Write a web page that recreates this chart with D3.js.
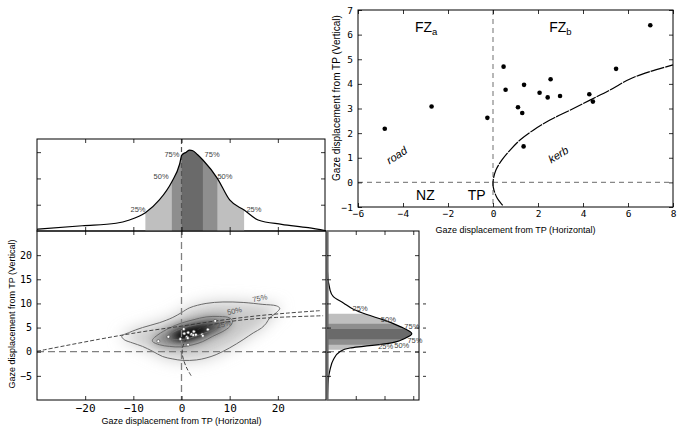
<!DOCTYPE html>
<html><head><meta charset="utf-8">
<script src="https://cdn.jsdelivr.net/npm/d3@7"></script>
<style>body{margin:0;background:#fff}svg{display:block}</style>
</head><body>
<svg id="c" width="683" height="432"></svg>
<script>
// ---------------- DATA ----------------
// gaze points (same points in both panels)
const ptsX = [-4.81,-2.73,-0.25,0.47,0.56,1.11,1.30,1.38,1.36,2.07,2.43,2.56,2.98,4.28,4.44,5.47,6.99];
const ptsY = [2.18,3.08,2.62,4.70,3.76,3.05,2.82,3.96,1.46,3.64,3.45,4.19,3.51,3.58,3.28,4.61,6.38];
// kerb boundary (top-right panel)
const kerbTR = [[0.43,-0.93],[0.16,-0.59],[0.01,-0.18],[0.01,0.09],[0.13,0.5],[0.39,0.9],[0.76,1.31],[1.2,1.72],[1.79,2.12],[2.53,2.53],[3.42,2.93],[4.31,3.34],[5.2,3.75],[6.09,4.2],[6.98,4.5],[8.0,4.77]];
// tick values
const trXTicks = [-6,-4,-2,0,2,4,6,8];
const trYTicks = [-1,0,1,2,3,4,5,6,7];
const mainXTicks = [-20,-10,0,10,20];
const mainYTicks = [-5,0,5,10,15,20];
const densTicks = [0.02,0.04,0.06];
// density contours (main panel)
const c75 = [[-12.4,3.2],[-10.8,4.0],[-8.1,5.0],[-4.6,6.0],[-1.8,7.1],[0,8.1],[1.7,9.1],[5.1,10.0],[8.6,10.3],[12.8,10.2],[16.9,9.8],[19.7,9.5],[20.4,9.0],[19.7,8.1],[18.3,7.0],[17.6,5.9],[16.6,4.9],[14.9,3.9],[12.8,2.5],[10.0,0.8],[7.2,-0.6],[5.1,-1.3],[3.1,-1.7],[0.3,-1.8],[-1.8,-1.5],[-3.9,-1.0],[-6.0,0.1],[-8.1,1.1],[-10.1,1.8],[-11.9,2.5]];
const c50 = [[-6.0,2.5],[-4.9,3.5],[-2.5,4.9],[-0.1,5.9],[2.4,6.6],[5.1,7.2],[7.9,7.3],[10.0,7.0],[10.6,6.3],[10.0,5.2],[8.6,4.2],[6.5,3.2],[4.4,2.1],[2.4,1.45],[-0.1,1.0],[-2.5,1.1],[-4.6,1.45],[-6.0,2.1]];
const c25 = [[-2.85,3.2],[-1.8,4.0],[0.3,4.9],[3.1,5.6],[5.8,6.05],[7.4,5.9],[8.0,5.4],[7.4,4.8],[5.8,4.2],[3.75,3.5],[1.7,2.8],[-0.4,2.5],[-2.1,2.6]];
const core = [[-1.5,3.1],[-0.5,3.9],[1.0,4.5],[3.0,4.9],[4.8,5.0],[5.5,4.6],[4.6,3.8],[2.8,3.1],[1.0,2.6],[-0.6,2.6]];
const contourNames = ['75%','50%','25%'];
const contourLabelPos = [[16.25,11.1],[11.0,8.45],[8.8,5.7]];
// boundaries (main panel)
const roadMain = [[-30,0.1],[-17,2.6],[-8,4.15],[0,5.3],[7,6.35],[15,7.35],[22,8.0],[28.7,8.5]];
const kerbMain = [[2.0,-4.97],[1.1,-3.4],[0.42,-1.66],[0.14,-0.28],[0.28,1.1],[0.97,2.5],[2.36,3.87],[4.4,5.1],[7.9,5.9],[12.8,6.6],[19.7,7.1],[29.4,7.45]];
// horizontal marginal density
const margXx = [-30,-20.6,-13.6,-10.8,-7.5,-4.6,-2.0,-0.4,0.06,1.0,1.67,2.35,3.3,4.44,7.44,10.0,13.0,15.9,20.8,26.3,30];
const margXd = [0.0013,0.0040,0.0059,0.0084,0.0139,0.0236,0.0375,0.0508,0.0578,0.0600,0.0616,0.0611,0.0582,0.054,0.0401,0.0236,0.016,0.0084,0.0051,0.0025,0.0002];
const bandXLo = [-7.5,-2.0,0.06];
const bandXHi = [13.0,7.44,4.44];
const topLabels = ['25%','50%','75%','25%','50%','75%'];
const topLabelX = [-9.02,-4.23,-1.98,15.04,9.02,6.35];
const topLabelD = [0.0164,0.0416,0.0582,0.0164,0.0416,0.0582];
// vertical marginal density
const margYy = [25,17,12.8,11.4,10.1,8.8,7.7,6.6,5.2,3.7,2.8,1.66,1.1,0.77,0.06,-1.66,-3.7,-5.8,-10];
const margYd = [0.0001,0.0002,0.0021,0.0044,0.0114,0.0183,0.0277,0.0392,0.0509,0.059,0.0544,0.0416,0.0253,0.016,0.0091,0.0044,0.0021,0.0009,0.0002];
const bandYLo = [0.41,1.45,2.6];
const bandYHi = [7.87,5.8,4.7];
const rightLabels = ['25%','50%','75%','75%','50%','25%'];
const rightLabelY = [9.05,6.7,5.3,2.3,1.4,1.05];
const rightLabelD = [0.023,0.0427,0.059,0.0612,0.052,0.0408];

// ---------------- DRAW ----------------
const svg = d3.select('#c');
svg.append('rect').attr('width',683).attr('height',432).attr('fill','#fff');
const defs = svg.append('defs');
const SANS = 'Liberation Sans, Arial, sans-serif';
const MONO = 'DejaVu Sans Mono, monospace';
const bandFill = ['#bfbfbf','#8e8e8e','#6a6a6a'];

// scales
const xTR = d3.scaleLinear([-6,8],[358,673]);
const yTR = d3.scaleLinear([-1,7],[207,10]);
const xM = d3.scaleLinear([-30,30],[37,326]);
const yM = d3.scaleLinear([-10,25],[400,231]);
const yT = d3.scaleLinear([0,0.07],[231,139]);
const xR = d3.scaleLinear([0,0.064],[327,419]);

function styleAxis(g, fs){
  g.select('.domain').remove();
  g.attr('font-family',MONO).attr('font-size',fs);
  g.selectAll('line').attr('stroke','#000').attr('stroke-width',0.8);
  g.selectAll('text').attr('fill','#000');
  return g;
}
function addAxis(gen, tx, ty, fs){
  const g = svg.append('g').attr('transform',`translate(${tx},${ty})`).call(gen);
  return styleAxis(g, fs||9);
}

// ===== Top-right panel =====
const tr = svg.append('g');
const lineTR = d3.line().x(d=>xTR(d[0])).y(d=>yTR(d[1]));
tr.append('line').attr('x1',xTR(0)).attr('x2',xTR(0)).attr('y1',yTR(7)).attr('y2',yTR(-1))
  .attr('stroke','#888').attr('stroke-width',1.2).attr('stroke-dasharray','5,4');
tr.append('line').attr('x1',xTR(-6)).attr('x2',xTR(8)).attr('y1',yTR(0)).attr('y2',yTR(0))
  .attr('stroke','#888').attr('stroke-width',1.2).attr('stroke-dasharray','5,4');
tr.append('path').attr('d',lineTR.curve(d3.curveCatmullRom)(kerbTR)).attr('fill','none')
  .attr('stroke','#000').attr('stroke-width',1.2).attr('stroke-dasharray','14,1');
tr.selectAll('circle').data(ptsX).join('circle')
  .attr('cx',(d)=>xTR(d)).attr('cy',(d,i)=>yTR(ptsY[i])).attr('r',2.3).attr('fill','#000');
function zoneLabel(main, sub, x, y){
  const t = tr.append('text').attr('x',xTR(x)).attr('y',yTR(y)).attr('font-family',SANS).attr('font-size',14).attr('fill','#000').text(main);
  if(sub) t.append('tspan').attr('font-size',9.5).attr('dy',2.8).text(sub);
}
zoneLabel('FZ','a',-3.47,6.09);
zoneLabel('FZ','b',2.5,6.09);
zoneLabel('NZ',null,-3.42,-0.7);
zoneLabel('TP',null,-1.12,-0.72);
tr.append('text').attr('transform',`translate(${xTR(-4.28)},${yTR(1.1)}) rotate(-33)`)
  .attr('text-anchor','middle').attr('dy','0.35em').attr('font-family',SANS).attr('font-style','italic').attr('font-size',11).text('road');
tr.append('text').attr('transform',`translate(${xTR(2.9)},${yTR(1.13)}) rotate(-32)`)
  .attr('text-anchor','middle').attr('dy','0.35em').attr('font-family',SANS).attr('font-style','italic').attr('font-size',11).text('kerb');
addAxis(d3.axisBottom(xTR).tickValues(trXTicks).tickSize(-4).tickPadding(3),0,207,9.5);
addAxis(d3.axisTop(xTR).tickValues(trXTicks).tickSize(-4).tickFormat(''),0,10);
addAxis(d3.axisLeft(yTR).tickValues(trYTicks).tickSize(-4).tickPadding(5),358,0,9.5);
addAxis(d3.axisRight(yTR).tickValues(trYTicks).tickSize(-4).tickFormat(''),673,0);
tr.append('rect').attr('x',358).attr('y',10).attr('width',315).attr('height',197).attr('fill','none').attr('stroke','#000').attr('stroke-width',1);
tr.append('text').attr('x',(xTR(-6)+xTR(8))/2).attr('y',233).attr('text-anchor','middle')
  .attr('font-family',SANS).attr('font-size',9).text('Gaze displacement from TP (Horizontal)');
tr.append('text').attr('transform','translate(340,98) rotate(-90)').attr('text-anchor','middle')
  .attr('font-family',SANS).attr('font-size',10).text('Gaze displacement from TP (Vertical)');

// ===== Main panel =====
defs.append('clipPath').attr('id','clipMain').append('rect').attr('x',37).attr('y',231).attr('width',289).attr('height',169);
[['bl7',7.5],['bl5',5],['bl4',4],['bl35',3.5]].forEach(([id,s])=>{
  defs.append('filter').attr('id',id).attr('filterUnits','userSpaceOnUse')
    .attr('x',0).attr('y',200).attr('width',400).attr('height',232)
    .append('feGaussianBlur').attr('stdDeviation',s);
});
const lineM = d3.line().x(d=>xM(d[0])).y(d=>yM(d[1]));
const closedM = d3.line().x(d=>xM(d[0])).y(d=>yM(d[1])).curve(d3.curveCatmullRomClosed);
const mainG = svg.append('g').attr('clip-path','url(#clipMain)');
const heat = mainG.append('g');
heat.append('path').attr('d',closedM(c75)).attr('fill','#c9c9c9').attr('filter','url(#bl7)');
heat.append('path').attr('d',closedM(c50)).attr('fill','#8a8a8a').attr('filter','url(#bl5)');
heat.append('path').attr('d',closedM(c25)).attr('fill','#363636').attr('filter','url(#bl4)');
heat.append('path').attr('d',closedM(core)).attr('fill','#000').attr('filter','url(#bl35)');
[c75,c50,c25].forEach(c=>{
  mainG.append('path').attr('d',closedM(c)).attr('fill','none').attr('stroke','#6a6a6a').attr('stroke-width',1);
});
mainG.append('line').attr('x1',xM(0)).attr('x2',xM(0)).attr('y1',yM(25)).attr('y2',yM(-10))
  .attr('stroke','#808080').attr('stroke-width',1.3).attr('stroke-dasharray','7,4');
mainG.append('line').attr('x1',xM(-30)).attr('x2',xM(30)).attr('y1',yM(0)).attr('y2',yM(0))
  .attr('stroke','#808080').attr('stroke-width',1.3).attr('stroke-dasharray','7,4');
mainG.append('path').attr('d',lineM.curve(d3.curveCatmullRom)(roadMain)).attr('fill','none')
  .attr('stroke','#333').attr('stroke-width',0.9).attr('stroke-dasharray','4,2');
mainG.append('path').attr('d',lineM.curve(d3.curveCatmullRom)(kerbMain)).attr('fill','none')
  .attr('stroke','#333').attr('stroke-width',0.9).attr('stroke-dasharray','4,2');
mainG.selectAll('circle').data(ptsX).join('circle')
  .attr('cx',d=>xM(d)).attr('cy',(d,i)=>yM(ptsY[i])).attr('r',1.5)
  .attr('fill','#fff').attr('stroke','#444').attr('stroke-width',0.6);
contourNames.forEach((t,i)=>{
  mainG.append('text').attr('transform',`translate(${xM(contourLabelPos[i][0])},${yM(contourLabelPos[i][1])}) rotate(-12)`)
    .attr('text-anchor','middle').attr('dy','0.35em').attr('font-family',SANS).attr('font-size',7.5).attr('fill','#555').text(t);
});
addAxis(d3.axisBottom(xM).tickValues(mainXTicks).tickSize(-4).tickPadding(4),0,400,11);
addAxis(d3.axisTop(xM).tickValues(mainXTicks).tickSize(-4).tickFormat(''),0,231);
addAxis(d3.axisLeft(yM).tickValues(mainYTicks).tickSize(-4).tickPadding(5),37,0,10);
addAxis(d3.axisRight(yM).tickValues(mainYTicks).tickSize(-4).tickFormat(''),326,0);
svg.append('rect').attr('x',37).attr('y',231).attr('width',289).attr('height',169).attr('fill','none').attr('stroke','#000').attr('stroke-width',1);
svg.append('text').attr('x',(xM(-30)+xM(30))/2).attr('y',423.5).attr('text-anchor','middle')
  .attr('font-family',SANS).attr('font-size',9).text('Gaze displacement from TP (Horizontal)');
svg.append('text').attr('transform','translate(14.5,314) rotate(-90)').attr('text-anchor','middle')
  .attr('font-family',SANS).attr('font-size',9).text('Gaze displacement from TP (Vertical)');

// ===== Top marginal =====
const topG = svg.append('g');
const areaT = d3.area().x((d,i)=>xM(margXx[i])).y0(yT(0)).y1((d)=>yT(d)).curve(d3.curveMonotoneX);
const lineT = d3.line().x((d,i)=>xM(margXx[i])).y(d=>yT(d)).curve(d3.curveMonotoneX);
bandXLo.forEach((lo,i)=>{
  const id='clipT'+i;
  defs.append('clipPath').attr('id',id).append('rect').attr('x',xM(lo)).attr('y',139).attr('width',xM(bandXHi[i])-xM(lo)).attr('height',92);
  topG.append('path').attr('d',areaT(margXd)).attr('fill',bandFill[i]).attr('clip-path',`url(#${id})`);
});
topG.append('line').attr('x1',xM(0)).attr('x2',xM(0)).attr('y1',yT(0.07)).attr('y2',yT(0))
  .attr('stroke','#555').attr('stroke-width',1.2).attr('stroke-dasharray','5,3');
topG.append('path').attr('d',lineT(margXd)).attr('fill','none').attr('stroke','#000').attr('stroke-width',1.2);
topLabels.forEach((t,i)=>{
  topG.append('text').attr('x',xM(topLabelX[i])).attr('y',yT(topLabelD[i])).attr('dy','0.35em').attr('text-anchor','middle')
    .attr('font-family',SANS).attr('font-size',7.5).attr('fill','#444').text(t);
});
addAxis(d3.axisTop(xM).tickValues(mainXTicks).tickSize(-4).tickFormat(''),0,139);
addAxis(d3.axisBottom(xM).tickValues(mainXTicks).tickSize(-4).tickFormat(''),0,231);
addAxis(d3.axisLeft(yT).tickValues(densTicks).tickSize(-4).tickFormat(''),37,0);
addAxis(d3.axisRight(yT).tickValues(densTicks).tickSize(-4).tickFormat(''),325,0);
topG.append('rect').attr('x',37).attr('y',139).attr('width',288).attr('height',92).attr('fill','none').attr('stroke','#000').attr('stroke-width',1);

// ===== Right marginal =====
const rG = svg.append('g');
const areaR = d3.area().y((d,i)=>yM(margYy[i])).x0(xR(0)).x1(d=>xR(d)).curve(d3.curveMonotoneY);
const lineR = d3.line().y((d,i)=>yM(margYy[i])).x(d=>xR(d)).curve(d3.curveMonotoneY);
defs.append('clipPath').attr('id','clipR').append('rect').attr('x',327).attr('y',231).attr('width',92).attr('height',169);
bandYLo.forEach((lo,i)=>{
  const id='clipRb'+i;
  defs.append('clipPath').attr('id',id).append('rect').attr('x',327).attr('y',yM(bandYHi[i])).attr('width',92).attr('height',yM(lo)-yM(bandYHi[i]));
  rG.append('path').attr('d',areaR(margYd)).attr('fill',bandFill[i]).attr('clip-path',`url(#${id})`);
});
rG.append('line').attr('x1',xR(0)).attr('x2',xR(0.064)).attr('y1',yM(0)).attr('y2',yM(0))
  .attr('stroke','#888').attr('stroke-width',1.3).attr('stroke-dasharray','7,4');
rG.append('path').attr('d',lineR(margYd)).attr('fill','none').attr('stroke','#000').attr('stroke-width',1.2).attr('clip-path','url(#clipR)');
rightLabels.forEach((t,i)=>{
  rG.append('text').attr('x',xR(rightLabelD[i])).attr('y',yM(rightLabelY[i])).attr('dy','0.35em').attr('text-anchor','middle')
    .attr('font-family',SANS).attr('font-size',7.5).attr('fill','#444').text(t);
});
addAxis(d3.axisLeft(yM).tickValues(mainYTicks).tickSize(-4).tickFormat(''),327,0);
addAxis(d3.axisRight(yM).tickValues(mainYTicks).tickSize(-4).tickFormat(''),419,0);
addAxis(d3.axisTop(xR).tickValues(densTicks).tickSize(-4).tickFormat(''),0,231);
addAxis(d3.axisBottom(xR).tickValues(densTicks).tickSize(-4).tickFormat(''),0,400);
rG.append('rect').attr('x',327).attr('y',231).attr('width',92).attr('height',169).attr('fill','none').attr('stroke','#000').attr('stroke-width',1);
rG.append('line').attr('x1',327.5).attr('x2',327.5).attr('y1',231).attr('y2',400).attr('stroke','#6a6a6a').attr('stroke-width',2.2);
// stray tick marks right of the marginal
addAxis(d3.axisRight(yM).tickValues([-5,0,5,10]).tickSize(3).tickFormat(''),423,0);
</script></body></html>
